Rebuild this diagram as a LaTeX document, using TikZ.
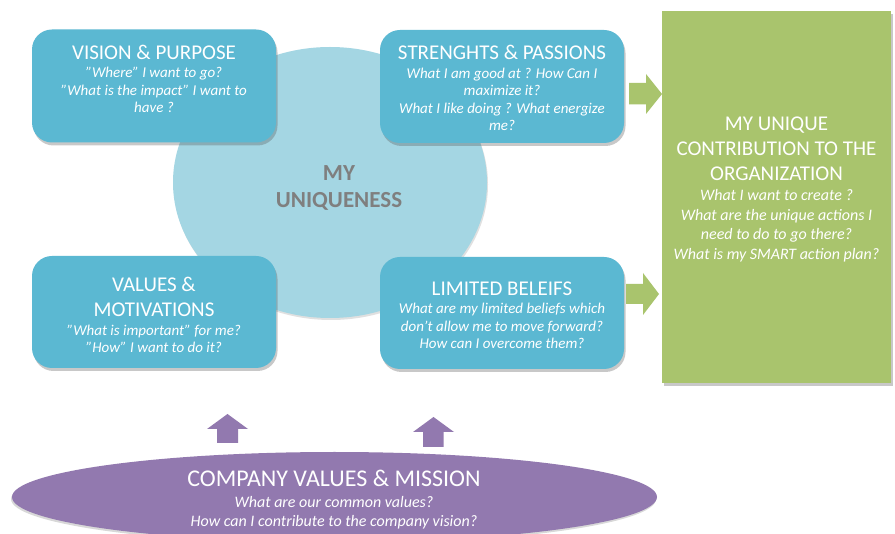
\documentclass[tikz,border=0pt]{standalone}
\usepackage{fontspec}
\setmainfont{Carlito}
\usetikzlibrary{shadows,shapes.geometric}
\definecolor{boxblue}{HTML}{5BB8D2}
\definecolor{circblue}{HTML}{A4D6E3}
\definecolor{leafgreen}{HTML}{A9C46D}
\definecolor{violet2}{HTML}{9279AF}
\definecolor{greytext}{HTML}{7F7F7F}
\newcommand{\primeq}{\char39\char39}
\begin{document}
\begin{tikzpicture}[x=1pt,y=-1pt,
  softshadow/.style={drop shadow={shadow xshift=1.5pt,shadow yshift=-3pt,opacity=0.3,fill=black!70}},
  bluebox/.style={shape=rectangle,fill=boxblue,rounded corners=20pt,minimum width=244pt,minimum height=113pt,inner sep=0pt,softshadow},
  ttl/.style={text=white,font=\fontsize{21}{25}\selectfont,align=center,inner sep=0pt,anchor=base},
  qs/.style={text=white,font=\itshape\fontsize{15}{17.5}\selectfont,align=center,inner sep=0pt,anchor=base},
  qsbig/.style={text=white,font=\itshape\fontsize{16}{19.5}\selectfont,align=center,inner sep=0pt,anchor=base}
]
\useasboundingbox (0,0) rectangle (895,534);
\fill[white] (0,0) rectangle (895,534);

% central circle
\node[shape=ellipse,fill=circblue,minimum width=314pt,minimum height=271pt,inner sep=0pt,
      drop shadow={shadow xshift=1pt,shadow yshift=-2pt,opacity=0.2,fill=black!60}] (uniq) at (330,182.5) {};
\node[text=greytext,font=\bfseries\fontsize{23}{27}\selectfont,align=center,inner sep=0pt,anchor=base] (uniqtxt) at (339,208) {MY\\UNIQUENESS};

% green result box
\node[shape=rectangle,fill=leafgreen,minimum width=229pt,minimum height=372pt,inner sep=0pt,softshadow] (contrib) at (776.5,197) {};
\node[ttl] (contribttl) at (776.5,181) {MY UNIQUE\\CONTRIBUTION TO THE\\ORGANIZATION};
\node[qsbig] (contribqs) at (776.5,259.5) {What I want to create ?\\What are the unique actions I\\need to do to go there?\\What is my SMART action plan?};

% blue boxes
\node[bluebox] (vision) at (154,86) {};
\node[ttl] (visionttl) at (154,60) {VISION \& PURPOSE};
\node[qs] (visionqs) at (154,113) {\primeq Where\primeq{} I want to go?\\\primeq What is the impact\primeq{} I want to\\have ?};

\node[bluebox] (strength) at (502,86.5) {};
\node[ttl] (strengthttl) at (502,60) {STRENGHTS \& PASSIONS};
\node[qs] (strengthqs) at (502,131) {What I am good at ? How Can I\\maximize it?\\What I like doing ? What energize\\me?};

\node[bluebox,minimum height=112pt] (values) at (154,312) {};
\node[ttl] (valuesttl) at (154,317) {VALUES \&\\MOTIVATIONS};
\node[qs] (valuesqs) at (154,353) {\primeq What is important\primeq{} for me?\\\primeq How\primeq{} I want to do it?};

\node[bluebox,minimum height=112pt] (limited) at (502,313) {};
\node[ttl] (limitedttl) at (502,296) {LIMITED BELEIFS};
\node[qs] (limitedqs) at (502,349) {What are my limited beliefs which\\don’t allow me to move forward?\\How can I overcome them?};

% green arrows
\fill[leafgreen] (629,83) -- (646,83) -- (646,74) -- (662,94) -- (646,114) -- (646,104.5) -- (629,104.5) -- cycle;
\fill[leafgreen] (626,284) -- (643,284) -- (643,273) -- (659,294) -- (643,315) -- (643,304) -- (626,304) -- cycle;

% company ellipse
\node[shape=ellipse,fill=violet2,minimum width=645pt,minimum height=90pt,inner sep=0pt,
      drop shadow={shadow xshift=-1pt,shadow yshift=-2pt,opacity=0.25,fill=black!60}] (company) at (334.5,497) {};
\node[text=white,font=\fontsize{24}{28}\selectfont,inner sep=0pt,anchor=base] (companyttl) at (334,487) {COMPANY VALUES \& MISSION};
\node[qsbig,font=\itshape\fontsize{16}{20}\selectfont] (companyqs) at (334,527) {What are our common values?\\How can I contribute to the company vision?};

% purple arrows
\fill[violet2] (217,443) -- (217,429) -- (207,429) -- (227.5,414) -- (248,429) -- (238,429) -- (238,443) -- cycle;
\fill[violet2] (423,447) -- (423,432) -- (413,432) -- (433.5,417) -- (454,432) -- (443.5,432) -- (443.5,447) -- cycle;
\end{tikzpicture}
\end{document}
